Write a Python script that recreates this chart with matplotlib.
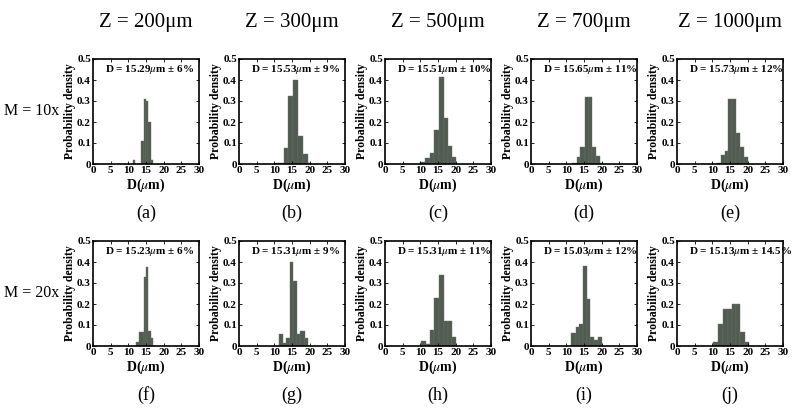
import numpy as np
import matplotlib
matplotlib.use('Agg')
import matplotlib.pyplot as plt

plt.rcParams['font.family'] = ['Liberation Serif', 'DejaVu Serif']
plt.rcParams['mathtext.fontset'] = 'stix'

# column / row labels
z_labels = ['Z = 200\u03bcm', 'Z = 300\u03bcm', 'Z = 500\u03bcm', 'Z = 700\u03bcm', 'Z = 1000\u03bcm']
m_labels = ['M = 10x', 'M = 20x']
panel_ids = ['(a)', '(b)', '(c)', '(d)', '(e)', '(f)', '(g)', '(h)', '(i)', '(j)']

# mean diameter and spread written in each panel
mean_d = ['15.29', '15.53', '15.51', '15.65', '15.73',
          '15.23', '15.31', '15.31', '15.03', '15.13']
spread = ['6', '9', '10', '11', '12', '6', '9', '11', '12', '14.5']

# histogram bin edges (um) and probability densities
edges_a = [11.3, 12.0, 12.7, 13.6, 14.4, 15.0, 15.7, 16.4, 17.1]
dens_a = [0.018, 0.0, 0.0, 0.11, 0.31, 0.30, 0.20, 0.02]
edges_b = [10.0, 12.6, 14.0, 15.2, 16.8, 18.1, 19.5, 20.5]
dens_b = [0.005, 0.074, 0.326, 0.40, 0.132, 0.05, 0.005]
edges_c = [10.0, 11.4, 12.8, 14.0, 15.2, 16.6, 17.9, 19.0, 20.0]
dens_c = [0.008, 0.03, 0.053, 0.16, 0.416, 0.22, 0.085, 0.035]
edges_d = [11.7, 13.0, 14.0, 15.3, 16.3, 17.3, 18.5, 19.5, 20.5]
dens_d = [0.005, 0.035, 0.08, 0.32, 0.32, 0.08, 0.04, 0.005]
edges_e = [11.2, 12.4, 13.6, 14.5, 15.5, 16.6, 17.7, 18.9, 20.1]
dens_e = [0.006, 0.045, 0.06, 0.31, 0.31, 0.15, 0.08, 0.035]
edges_f = [12.2, 13.1, 14.4, 15.0, 15.7, 16.4, 17.1]
dens_f = [0.02, 0.067, 0.33, 0.375, 0.07, 0.04]
edges_g = [11.4, 12.4, 13.3, 14.3, 15.3, 16.3, 17.4, 18.6, 19.5]
dens_g = [0.058, 0.016, 0.036, 0.40, 0.308, 0.058, 0.07, 0.036]
edges_h = [10.1, 11.6, 12.8, 14.0, 15.2, 16.6, 17.9, 19.0, 20.0]
dens_h = [0.025, 0.01, 0.075, 0.23, 0.34, 0.12, 0.12, 0.045]
edges_i = [11.4, 12.7, 13.6, 14.8, 15.8, 16.8, 17.9, 19.0, 20.1]
dens_i = [0.06, 0.09, 0.105, 0.38, 0.226, 0.044, 0.028, 0.044]
edges_j = [10.3, 11.5, 12.9, 14.3, 15.6, 16.8, 17.9, 19.2, 20.3]
dens_j = [0.017, 0.107, 0.178, 0.178, 0.20, 0.20, 0.068, 0.017]

all_edges = [edges_a, edges_b, edges_c, edges_d, edges_e,
             edges_f, edges_g, edges_h, edges_i, edges_j]
all_dens = [dens_a, dens_b, dens_c, dens_d, dens_e,
            dens_f, dens_g, dens_h, dens_i, dens_j]

W, H = 796, 412
fig = plt.figure(figsize=(W / 100, H / 100), dpi=100)

lefts = [93, 239, 385, 531, 677]   # pixel left edge of each column
tops = [59, 241]                     # pixel top edge of each row
aw, ah = 106, 105

for k in range(10):
    row, col = divmod(k, 5)
    ax = fig.add_axes([lefts[col] / W, 1 - (tops[row] + ah) / H, aw / W, ah / H])
    e = np.array(all_edges[k])
    ax.bar(e[:-1], all_dens[k], width=np.diff(e), align='edge',
           color='#515b51', edgecolor='#6a7369', linewidth=0.3)
    ax.set_xlim(0, 30)
    ax.set_ylim(0, 0.5)
    ax.set_xticks(range(0, 31, 5))
    ax.set_yticks([0, 0.1, 0.2, 0.3, 0.4, 0.5])
    ax.set_yticklabels(['0', '0.1', '0.2', '0.3', '0.4', '0.5'])
    ax.tick_params(direction='in', top=True, right=True, length=2.5, width=0.6,
                   labelsize=8, pad=1.5)
    for lab in ax.get_xticklabels() + ax.get_yticklabels():
        lab.set_fontweight('bold')
    for sp in ax.spines.values():
        sp.set_linewidth(1.2)
    ax.set_xlabel('D($\\mu$m)', fontsize=10, fontweight='bold', labelpad=1)
    ax.set_ylabel('Probability density', fontsize=8.5, fontweight='bold', labelpad=1)
    ax.text(0.11, 0.9, 'D = ' + mean_d[k] + '$\\mu$m \u00b1 ' + spread[k] + '%',
            transform=ax.transAxes, fontsize=8, fontweight='bold', va='center')
    # panel id below the axes
    fig.text((lefts[col] + aw / 2) / W, 1 - (tops[row] + 154) / H, panel_ids[k],
             ha='center', va='center', fontsize=13)

for col in range(5):
    fig.text((lefts[col] + aw / 2) / W, 1 - 22 / H, z_labels[col],
             ha='center', va='center', fontsize=15)

for row in range(2):
    fig.text(4 / W, 1 - (tops[row] + 52) / H, m_labels[row],
             ha='left', va='center', fontsize=11.5)

plt.savefig('out.png', dpi=100)
